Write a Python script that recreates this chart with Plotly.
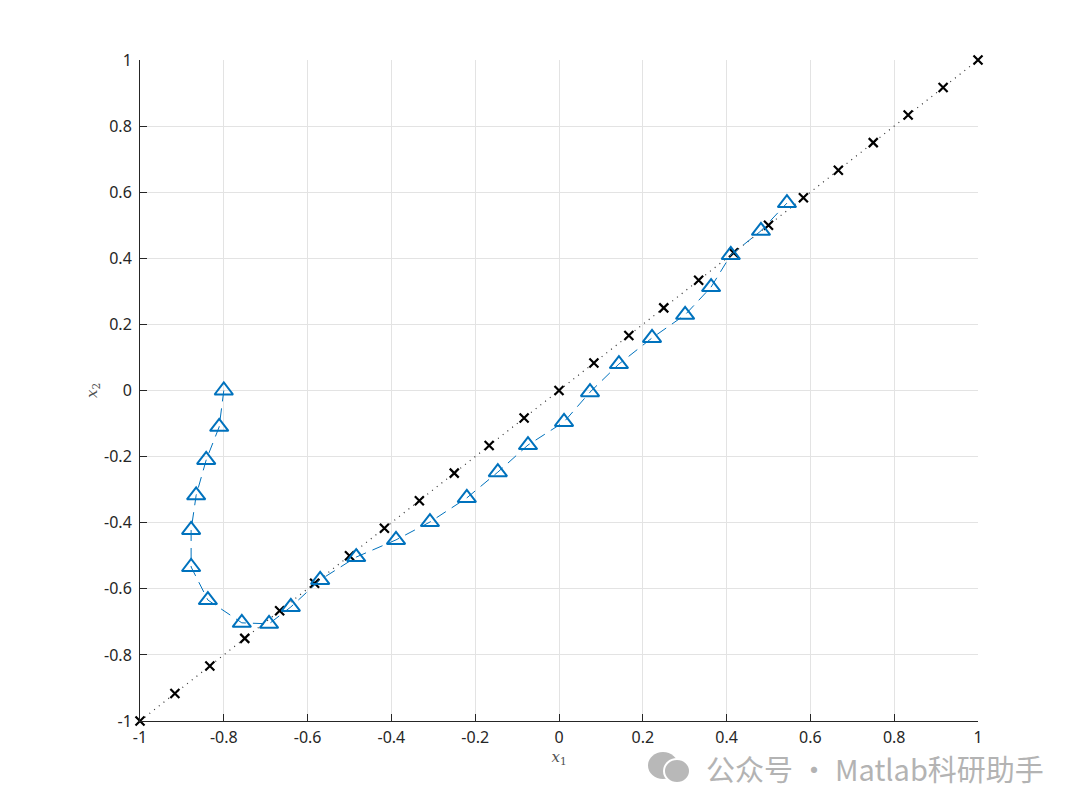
import plotly.graph_objects as go

# Reference diagonal points (x markers)
diag_x = [-1.0, -0.9167, -0.8333, -0.75, -0.6667, -0.5833, -0.5, -0.4167, -0.3333,
          -0.25, -0.1667, -0.0833, 0.0, 0.0833, 0.1667, 0.25, 0.3333, 0.4167, 0.5,
          0.5833, 0.6667, 0.75, 0.8333, 0.9167, 1.0]
diag_y = list(diag_x)

# Trajectory points (triangles)
traj_x = [-0.800, -0.811, -0.842, -0.866, -0.878, -0.878, -0.838, -0.757, -0.692,
          -0.640, -0.570, -0.484, -0.389, -0.308, -0.220, -0.146, -0.074, 0.012,
          0.074, 0.143, 0.222, 0.301, 0.363, 0.410, 0.482, 0.544]
traj_y = [0.000, -0.110, -0.210, -0.317, -0.422, -0.534, -0.634, -0.703, -0.706,
          -0.655, -0.573, -0.504, -0.452, -0.398, -0.325, -0.247, -0.165, -0.095,
          -0.005, 0.080, 0.159, 0.229, 0.313, 0.410, 0.483, 0.567]

tick_vals = [-1, -0.8, -0.6, -0.4, -0.2, 0, 0.2, 0.4, 0.6, 0.8, 1]
tick_text = ["-1", "-0.8", "-0.6", "-0.4", "-0.2", "0", "0.2", "0.4", "0.6", "0.8", "1"]

blue = "#0072BD"

fig = go.Figure()
fig.add_trace(go.Scatter(
    x=diag_x, y=diag_y, mode="lines+markers", cliponaxis=False,
    line=dict(color="#333333", width=1.2, dash="1px,5px"),
    marker=dict(symbol="x-thin", size=9, line=dict(color="black", width=2.2)),
    showlegend=False,
))
fig.add_trace(go.Scatter(
    x=traj_x, y=traj_y, mode="lines+markers", cliponaxis=False,
    line=dict(color=blue, width=1, dash="11px,7px"),
    marker=dict(symbol="triangle-up-open", size=16, color=blue,
                line=dict(color=blue, width=2)),
    showlegend=False,
))

axis_common = dict(
    range=[-1, 1], tickvals=tick_vals, ticktext=tick_text,
    showgrid=True, gridcolor="#e3e3e3", gridwidth=1,
    zeroline=False, showline=True, linecolor="#262626", linewidth=1,
    ticks="inside", ticklen=7, tickcolor="#262626", mirror=False,
    tickfont=dict(family="Noto Sans", size=16, color="#262626"),
)

fig.update_layout(
    width=1080, height=810,
    margin=dict(l=132, r=110, t=52, b=97),
    paper_bgcolor="white", plot_bgcolor="white",
    xaxis=dict(**axis_common, ticklabelstandoff=2,
               title=dict(text="<i>x</i><sub>1</sub>", standoff=2,
                          font=dict(family="DejaVu Serif", size=15, color="#505050"))),
    yaxis=dict(**axis_common, ticklabelstandoff=4,
               title=dict(text="<i>x</i><sub>2</sub>", standoff=2,
                          font=dict(family="DejaVu Serif", size=15, color="#505050"))),
)

def px_x(p):
    return (p - 140) / 838.0

def px_y(p):
    return (721 - p) / 661.0

# watermark icon (two chat bubbles)
fig.add_shape(type="circle", xref="paper", yref="paper",
              x0=px_x(648), x1=px_x(678), y0=px_y(779), y1=px_y(752),
              fillcolor="#b8b8b8", line=dict(color="#b8b8b8", width=0))
fig.add_shape(type="circle", xref="paper", yref="paper",
              x0=px_x(664), x1=px_x(690), y0=px_y(783), y1=px_y(759),
              fillcolor="#b8b8b8", line=dict(color="white", width=2))

fig.add_annotation(
    text="公众号 · Matlab科研助手", xref="paper", yref="paper",
    x=px_x(1046), y=px_y(768), xanchor="right", yanchor="middle", showarrow=False,
    font=dict(family="Noto Sans CJK SC", size=29, color="#b3b3b3"),
)

fig.write_html("out.html")
